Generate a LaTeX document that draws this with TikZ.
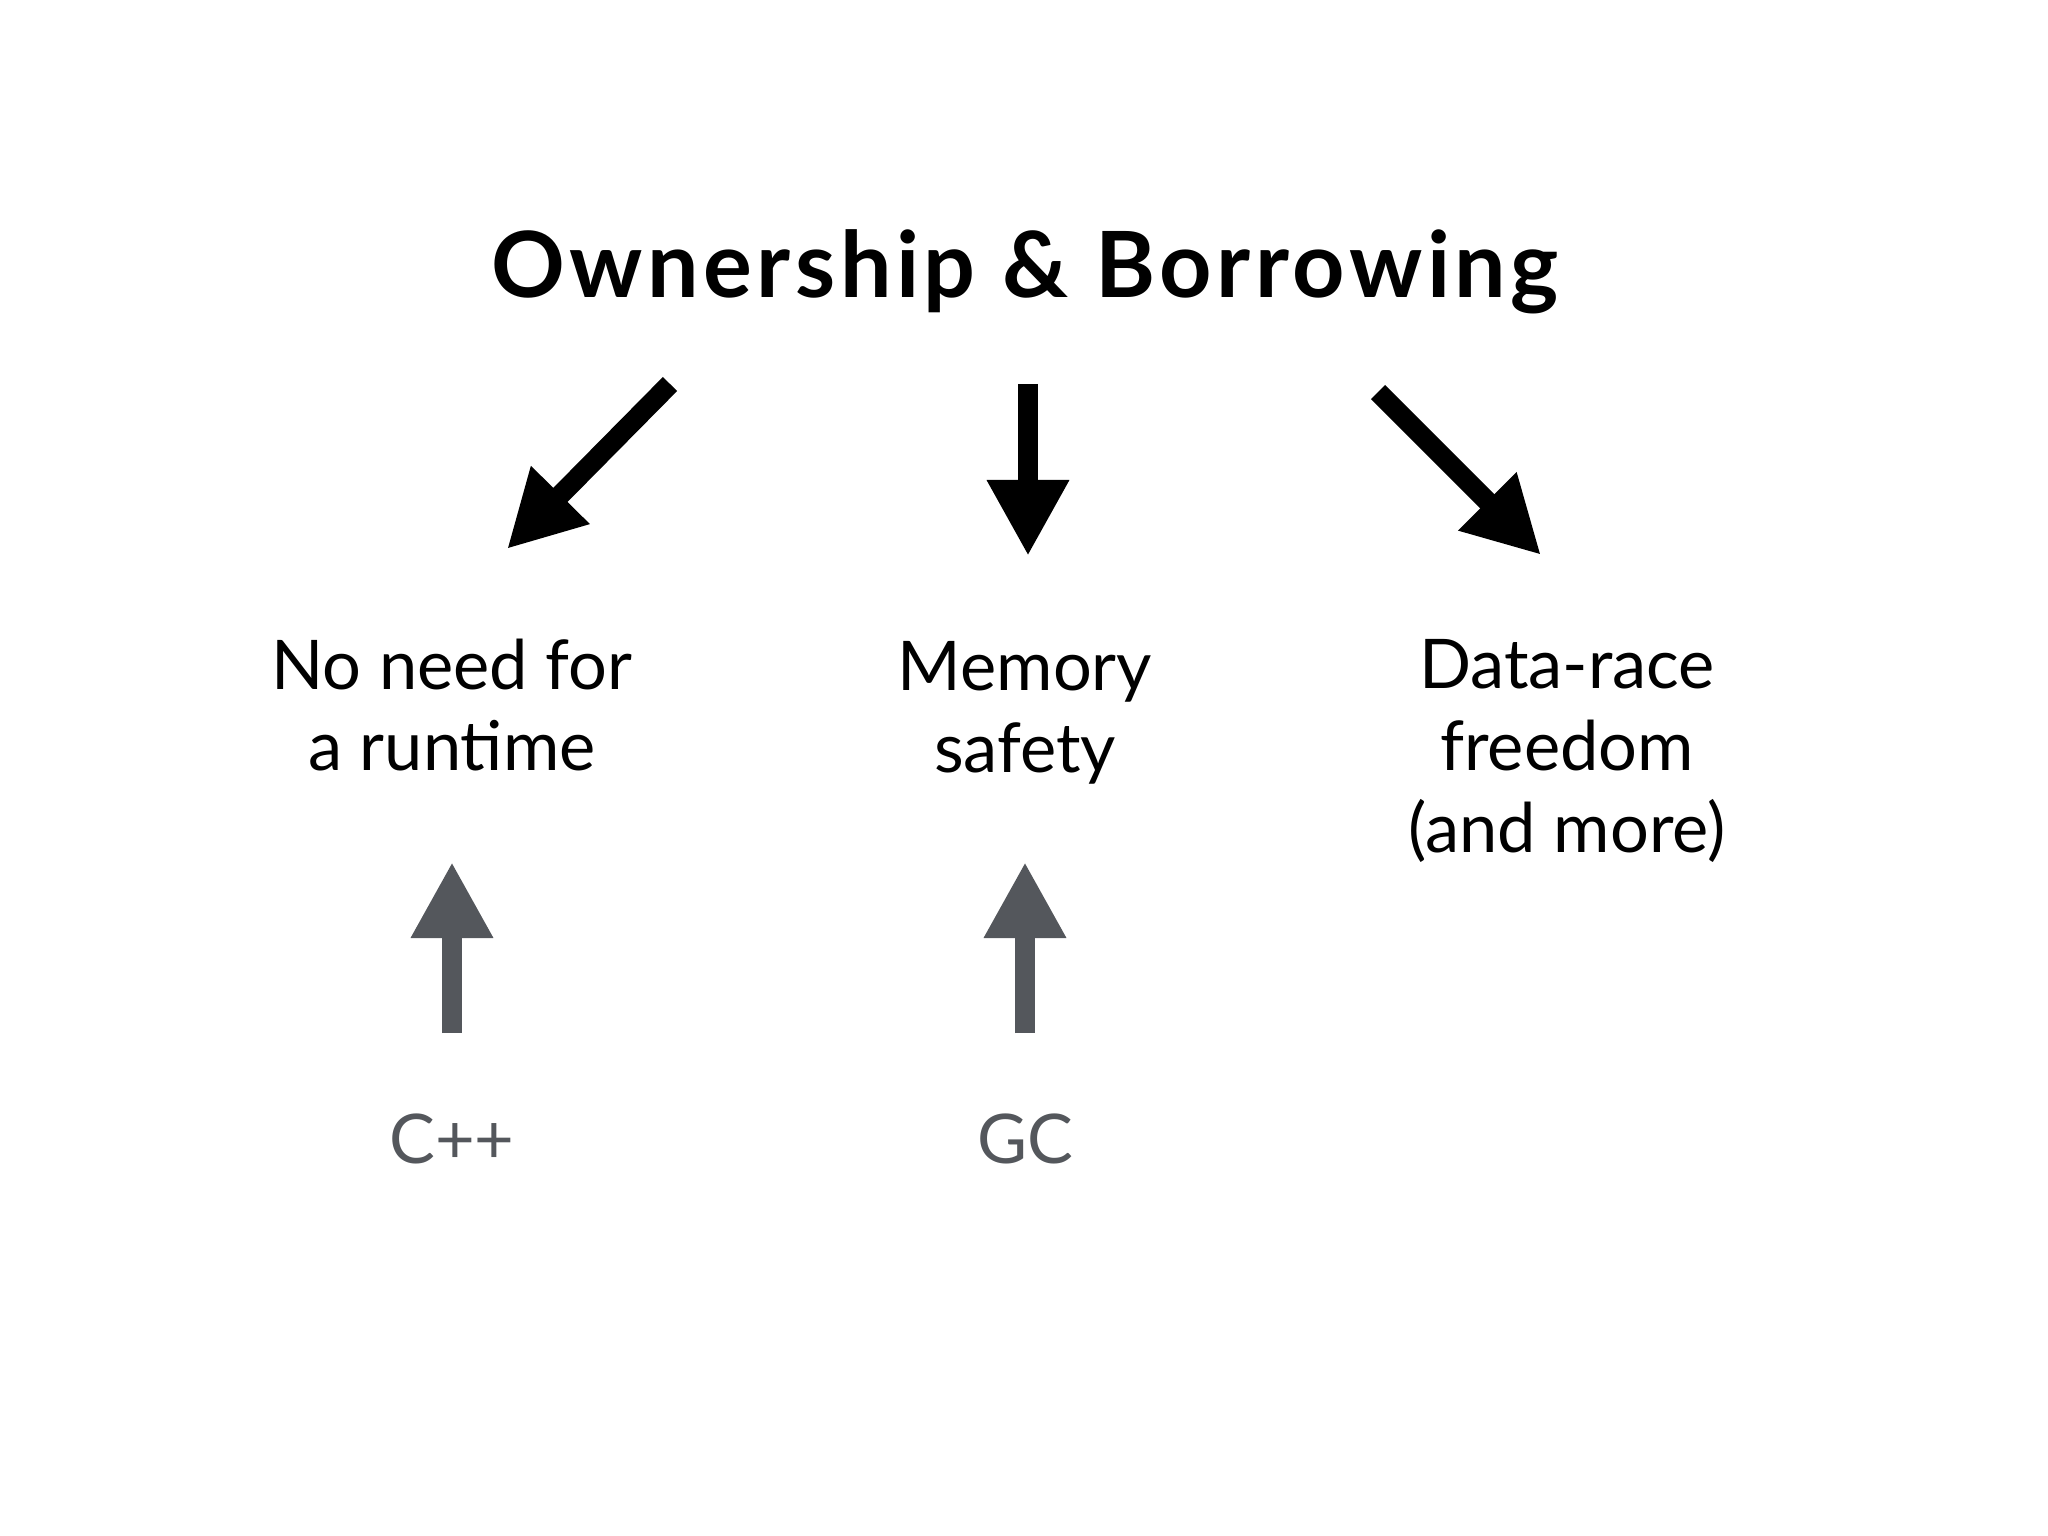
\documentclass[tikz,border=0pt]{standalone}
\usepackage{fontspec}
\setmainfont{Lato}
\usetikzlibrary{arrows.meta}
\definecolor{slategrey}{RGB}{84, 87, 92}

\begin{document}
\begin{tikzpicture}[
    font=\fontsize{19.5}{23.3}\selectfont,
    teks/.style={align=center, inner sep=0pt},
    panah/.style={-{Triangle[length=7.6mm, width=7.7mm]}, line width=2mm}
  ]
    \useasboundingbox (0,0) rectangle (20.48,-15.36);
    \node[font=\fontsize{26}{30}\selectfont\bfseries\addfontfeatures{LetterSpace=5}] (title) at (10.25,-2.72) {Ownership \& Borrowing};
    \node[teks] (runtime) at (4.52,-7.05) {No need for\\a runtime};
    \node[teks] (memory) at (10.25,-7.13) {Memory\\safety};
    \node[teks] (race) at (15.67,-7.51) {Data-race\\freedom\\(and more)};
    \node[teks, text=slategrey] (cpp) at (4.52,-11.39) {C++};
    \node[teks, text=slategrey] (gc) at (10.25,-11.39) {GC};
    % ujung panah dipasang sebagai koordinat bernama
    \coordinate (tl) at (6.70,-3.84);  \coordinate (hl) at (5.07,-5.49);
    \coordinate (tm) at (10.28,-3.84); \coordinate (hm) at (10.28,-5.56);
    \coordinate (tr) at (13.78,-3.92); \coordinate (hr) at (15.41,-5.55);
    \coordinate (tc) at (4.52,-10.33); \coordinate (hc) at (4.52,-8.62);
    \coordinate (tg) at (10.25,-10.33); \coordinate (hg) at (10.25,-8.62);
    \foreach \a/\b in {tl/hl, tm/hm, tr/hr} {
      \draw[panah] (\a) -- (\b);
    }
    \foreach \a/\b in {tc/hc, tg/hg} {
      \draw[panah, slategrey] (\a) -- (\b);
    }
  \end{tikzpicture}
\end{document}
